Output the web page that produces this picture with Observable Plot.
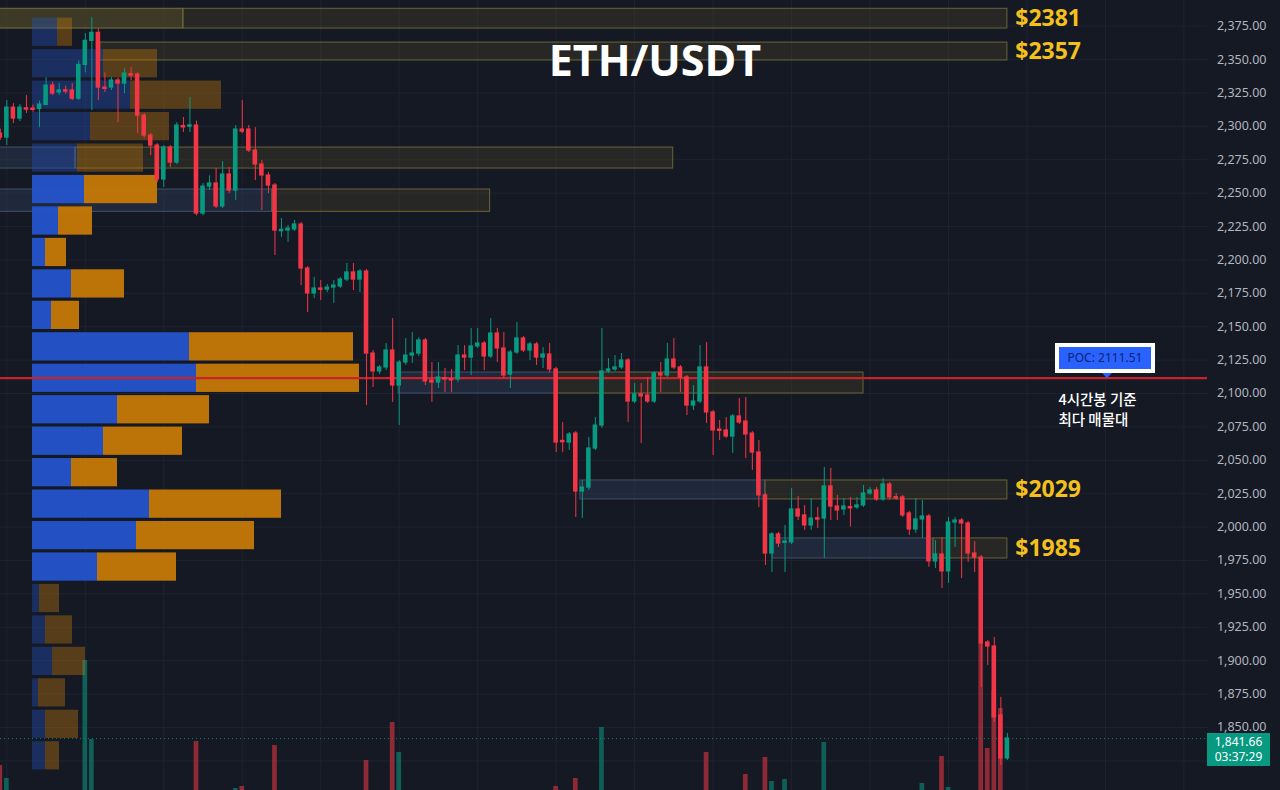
<!DOCTYPE html>
<html><head><meta charset="utf-8">
<script src="https://cdn.jsdelivr.net/npm/d3@7"></script>
<script src="https://cdn.jsdelivr.net/npm/@observablehq/plot@0.6"></script>
<style>
html,body{margin:0;padding:0;background:#151924;}
#wrap{position:relative;width:1280px;height:790px;overflow:hidden;background:#151924;font-family:"Noto Sans",sans-serif;}
#wrap svg{position:absolute;left:0;top:0;background:transparent;overflow:hidden;}
#title{position:absolute;left:0;width:1310px;top:30px;text-align:center;color:#fff;font:700 43px "Open Sans",sans-serif;letter-spacing:0px;}
#poc{position:absolute;box-sizing:border-box;width:100px;height:30px;border:4px solid #fff;background:#2962ff;color:#0d2470;font:12px "Noto Sans",sans-serif;text-align:center;line-height:22px;}
#poc:after{content:"";position:absolute;left:43px;bottom:-9px;border-left:5px solid transparent;border-right:5px solid transparent;border-top:5px solid #2962ff;}
#tag{position:absolute;box-sizing:border-box;width:63px;height:33px;background:#089981;color:#fff;font:12px "Noto Sans",sans-serif;text-align:center;line-height:15px;padding-top:1px;}
</style></head><body><div id="wrap"></div>
<script>
// ---- candle data (4h) ----
const open=[2294.6,2291.6,2314,2305.8,2313.5,2313.3,2313,2316,2330.5,2325.3,2327,2326.8,2320.7,2346,2364,2370,2329,2329,2334.3,2332,2339,2338.8,2308,2293.1,2285.6,2260.2,2284.1,2272.9,2300.2,2299.7,2300.6,2234.7,2254.9,2257.2,2240,2263.9,2251.9,2297.6,2297.6,2281.9,2271.4,2263.2,2255.7,2221.5,2222,2222.8,2226.5,2193.6,2174.9,2178.6,2177.8,2179.3,2180.1,2185.3,2190.6,2185.3,2191.3,2129.9,2116.5,2119.5,2132.2,2106,2123.2,2128.4,2129.9,2139.7,2109.7,2108.2,2111.5,2110.8,2110.5,2128.4,2126.9,2135.2,2137.4,2127.7,2144.9,2133.7,2114.2,2130.7,2141.2,2132.2,2136.7,2126.9,2129.2,2118,2064.5,2063.3,2070,2026.6,2029.6,2058.8,2076,2116.5,2118,2119.5,2124.7,2094,2099.3,2098.5,2094,2115,2113.5,2125.4,2119.5,2112,2091,2094,2119.5,2085.8,2073,2072.3,2067.8,2082.8,2079,2070,2055.8,2023.7,1980.2,1994.5,1988.2,1988.5,2013.2,2008.7,2001.2,2006.6,2006.4,2030.4,2015.4,2013.2,2015,2014.7,2016.2,2025.1,2027.4,2020.7,2031.9,2022.4,2022.2,2010.2,1998.2,2005.7,2007.9,1974.3,1979.5,1966.8,2003.4,2004.9,2002.7,1980.2,1977.2,1913.6,1910.6,1859,1826.8];
const close=[2291.6,2314,2305.8,2314,2312.5,2312.3,2316.3,2330.5,2324.5,2326.8,2326,2320.7,2346,2364,2370,2329,2328,2334.3,2332,2339.5,2338,2308,2293.1,2285.6,2260.2,2284.1,2272.9,2300.6,2299.2,2300.7,2234.7,2254.9,2257.2,2240,2263.9,2251.9,2297.6,2296,2281.9,2271.4,2263.2,2255.7,2222,2222.5,2223.5,2226.5,2193.6,2174.9,2178.6,2177.6,2179.3,2180.8,2185.3,2190.6,2185.3,2191.3,2129.9,2116.5,2119.5,2132.2,2106,2123.2,2128.4,2129.9,2139.7,2109,2108.2,2112,2110.5,2109.8,2128.4,2126.9,2135.2,2137.4,2127.7,2144.9,2133.7,2113.5,2130.7,2141.2,2132.2,2136.7,2126.9,2129.2,2118,2063.3,2063.5,2069.3,2026.6,2029.6,2058.8,2076,2116.5,2118,2119.5,2124.7,2094,2099.3,2097.8,2094,2115,2113.5,2125.4,2119.5,2112,2091,2094,2119.5,2085.8,2072.3,2072,2067.8,2082.8,2078.3,2069.3,2055.8,2023.7,1980.2,1994.5,1987.7,1989.2,2013.2,2007.9,2001.2,2006.4,2005.6,2030.4,2015.4,2012.4,2015.4,2014,2016.2,2025.1,2027.4,2020.7,2031.9,2022.2,2021.4,2008.7,1998.2,2005.7,2007.9,1974.3,1979.5,1966.8,2003.4,2004.9,2002.7,1980.2,1977.2,1912.9,1910.6,1857.5,1826.8,1841.66];
const high=[2298,2319.3,2317,2316.3,2323,2316,2319,2336.5,2333,2332,2330,2332,2349,2369.5,2381.4,2373,2340,2336.5,2336,2343.3,2344,2340,2309.6,2294.6,2287,2285.6,2285.6,2302.8,2306.6,2321.6,2304,2257.2,2263,2268.5,2273.6,2269.2,2300.6,2319.3,2300.6,2299,2274.4,2265.4,2257.2,2231,2225.8,2229.5,2228,2195,2186.8,2184.6,2181.6,2184.6,2186.8,2197.3,2197.3,2192.8,2192.8,2132.2,2121,2137.4,2156.1,2124.7,2141.2,2145.6,2141.9,2141.2,2123.2,2123.2,2118.7,2118,2135.9,2135.9,2148.7,2148.7,2138.9,2156.1,2148.7,2145.6,2132.2,2153.1,2142.7,2138.2,2138.2,2134.4,2137.4,2119.5,2078.3,2070.8,2071.5,2034.9,2067,2082,2148.7,2126.2,2128.4,2129.9,2126.2,2107.5,2107.5,2112,2116.5,2123.2,2137.4,2141.2,2121,2113.5,2106,2135.9,2138.2,2087.3,2079.8,2082,2084.3,2096.3,2097,2071.5,2064.8,2025.1,1996,1996,2001.2,2028.9,2022.9,2016.2,2021.4,2014.7,2044.6,2043.9,2023.7,2021.4,2022.2,2022.2,2031.1,2029.6,2029.6,2036.4,2033.4,2025.1,2023.7,2011.7,2021.4,2019.9,2009.4,1990,1992.2,2007.2,2007.2,2006.4,2004.2,1989.2,1978.7,1915,1917.4,1872.5,1845.5];
const low=[2289.5,2285.6,2302,2303.5,2309.6,2310.5,2299,2315.6,2323,2323,2324,2319.3,2319.3,2340,2311.8,2319.3,2325.3,2326.8,2302.8,2324.5,2334.3,2294.6,2291,2278.1,2257.9,2254.2,2269.2,2271.4,2295.4,2295.4,2233,2233,2251.9,2238.5,2238.5,2249.7,2244.5,2294.6,2280.4,2259.4,2237,2249.7,2203.3,2216.8,2213,2221.3,2180.8,2160.6,2171,2169.6,2175.6,2167.4,2178.6,2183.8,2177,2175.6,2091,2104.5,2114.2,2117.2,2093.3,2076,2121,2122.5,2127.7,2106,2093.3,2103.7,2100.7,2100.7,2108.2,2117.2,2113.5,2133.7,2117.2,2126.2,2123.2,2111.2,2103.7,2129.2,2130.7,2124.7,2121,2118.7,2115.7,2055.8,2055.8,2057.3,2007.2,2006.4,2027.4,2057.3,2073.8,2115,2116.5,2118,2078.3,2092.5,2062.6,2092.5,2092.5,2100.7,2112,2118,2100.7,2083.5,2087.3,2092.5,2077.5,2053.6,2064.8,2066.3,2055.1,2076.8,2051.3,2042.4,2014.7,1971.3,1966,1984.7,1966,1987,2004.9,1997.5,1997.5,1999,1976.5,2004.9,2004.9,2008.7,2000,2013.2,2014.7,2023.7,2019.2,2019.2,2020,2020,2007.2,1993.7,1995.2,1991.5,1969.8,1969,1954,1957.8,1984.7,1961.5,1973.5,1966,1879.9,1896.4,1853.7,1821.6,1825.3];
const volume=[90,64,30,28,18,15,22,34,20,14,12,20,36,300,142,38,20,18,24,22,14,36,30,26,38,34,22,30,14,22,138,36,20,26,30,22,44,48,30,28,26,20,130,24,16,14,36,38,22,16,12,14,16,18,20,18,100,38,16,20,176,116,28,24,22,34,26,20,16,14,30,16,26,18,20,30,22,28,24,22,16,14,16,12,18,48,30,22,64,36,34,30,166,20,14,16,36,18,24,16,26,14,22,20,18,30,16,32,116,34,16,14,26,18,72,34,38,106,58,24,62,38,22,20,18,14,136,30,16,12,16,10,18,12,14,20,16,10,24,22,30,54,38,26,108,46,18,30,34,26,334,124,240,204,38];

// ---- volume profile (24 rows, bottom -> top) ----
const profileRowLow=[1817,1840.55,1864.1,1887.65,1911.2,1934.75,1958.3,1981.85,2005.4,2028.95,2052.5,2076.05,2099.6,2123.15,2146.7,2170.25,2193.8,2217.35,2240.9,2264.45,2288,2311.55,2335.1,2358.65];
const profileRowStep=23.55;
const profileUp=[13,13,6,20,13,7,65,104,117,39,71,85,164,157,19,39,13,26,52,45,58,98,71,25];
const profileDown=[14,33,27,33,27,20,79,118,132,46,79,92,163,164,28,53,21,34,73,66,79,91,54,15];
const valueAreaLow=1958.3, valueAreaHigh=2264.45;

// ---- zones ----
const zoneLow=[2373.2,2349.3,2268.4,2236.0,2100.0,2020.7,1976.5];
const zoneHigh=[2388.0,2362.7,2284.1,2252.7,2115.7,2034.9,1991.5];
const zoneStart=[-2,15.3,-2,-2,60.9,88.7,118.1];
const zoneSplit=[28,15.3,11.5,41.6,84.9,117,142.7];
const zoneEnd=[154,154,102.9,74.9,132,154,154];
const zoneLabels=["$2381","$2357",null,null,null,"$2029","$1985"];

const priceTicks=d3.range(1825,2376,25);
const poc=2111.51, lastPrice=1841.66, countdown="03:37:29", symbol="ETH/USDT";
const pocNote="4시간봉 기준\n최다 매물대";

const idx=d3.range(open.length);
const up=i=>close[i]>=open[i];
const GREEN="#089981", RED="#f23645";
const W=1280,H=790;
const common={width:W,height:H,marginLeft:0,marginRight:73,marginTop:0,marginBottom:0,
  x:{domain:[0.03,184.6],axis:null}, style:{background:"transparent",overflow:"hidden"}};
const yPrice={domain:[1802.8,2394.2],axis:null};

const wrap=document.getElementById("wrap");

// layer 1: grid + zones
const zi=d3.range(zoneLow.length);
const g=Plot.plot({...common,y:yPrice,marks:[
  Plot.ruleY(priceTicks,{stroke:"#1f2330",strokeWidth:1}),
  Plot.ruleX(d3.range(1,185,12),{stroke:"#1f2330",strokeWidth:1}),
  Plot.rect(zi.filter(k=>zoneSplit[k]>zoneStart[k]),{x1:k=>zoneStart[k],x2:k=>zoneSplit[k],y1:k=>zoneLow[k],y2:k=>zoneHigh[k],
    fill:k=>k<2?"#4a4628":"#2a3a52",fillOpacity:k=>k<2?0.75:0.5,stroke:k=>k<2?"#77703a":"#415168",strokeWidth:1,clip:true}),
  Plot.rect(zi,{x1:k=>zoneSplit[k],x2:k=>zoneEnd[k],y1:k=>zoneLow[k],y2:k=>zoneHigh[k],
    fill:"#4a4628",fillOpacity:0.35,stroke:"#6a6436",strokeWidth:1,clip:true})
]});
wrap.appendChild(g);

// layer 2: volume
const v=Plot.plot({...common,y:{domain:[0,400],range:[810,610],axis:null},marks:[
  Plot.rect(idx,{x1:i=>i-0.36,x2:i=>i+0.36,y1:0,y2:i=>volume[i],fill:i=>up(i)?GREEN:RED,fillOpacity:0.55})
]});
wrap.appendChild(v);

// layer 3: volume profile
const rows=d3.range(profileUp.length);
const inVA=k=>profileRowLow[k]>=valueAreaLow-0.01&&profileRowLow[k]<valueAreaHigh-0.01;
const p=Plot.plot({...common,x:{domain:[0,327],range:[32,359],axis:null},y:yPrice,marks:[
  Plot.rect(rows,{x1:0,x2:k=>profileUp[k],y1:k=>profileRowLow[k],y2:k=>profileRowLow[k]+profileRowStep,insetTop:1.6,insetBottom:1.6,
    fill:"#2453c8",fillOpacity:k=>inVA(k)?0.97:0.36}),
  Plot.rect(rows,{x1:k=>profileUp[k],x2:k=>profileUp[k]+profileDown[k],y1:k=>profileRowLow[k],y2:k=>profileRowLow[k]+profileRowStep,insetTop:1.6,insetBottom:1.6,
    fill:"#c27808",fillOpacity:k=>inVA(k)?0.97:0.38})
]});
wrap.appendChild(p);

// layer 4: candles, lines, labels
const m=Plot.plot({...common,y:yPrice,marks:[
  Plot.ruleY([poc],{stroke:"#c8222a",strokeWidth:2.2}),
  Plot.ruleY([lastPrice],{stroke:GREEN,strokeWidth:1,strokeDasharray:"1,3",strokeOpacity:0.8}),
  Plot.ruleX(idx,{x:i=>i,y1:i=>low[i],y2:i=>high[i],stroke:i=>up(i)?GREEN:RED,strokeWidth:1}),
  Plot.rect(idx,{x1:i=>i-0.35,x2:i=>i+0.35,y1:i=>open[i],y2:i=>close[i],insetTop:-0.6,insetBottom:-0.6,fill:i=>up(i)?GREEN:RED}),
  Plot.text(zi.filter(k=>zoneLabels[k]),{x:155.2,y:k=>(zoneLow[k]+zoneHigh[k])/2,text:k=>zoneLabels[k],textAnchor:"start",
    fill:"#f3c01c",fontSize:23,fontWeight:"bold",fontFamily:"Open Sans",clip:false}),
  Plot.text(priceTicks.filter(d=>d>lastPrice),{y:d=>d,text:d=>d3.format(",.2f")(d),frameAnchor:"right",dx:59,textAnchor:"end",fill:"#b2b5be",fontSize:12.5,fontFamily:"Noto Sans"}),
  Plot.text([poc],{x:161.8,y:d=>d,dy:12,text:()=>pocNote,textAnchor:"start",lineAnchor:"top",lineHeight:1.4,fill:"#ffffff",fontSize:14.5,fontWeight:500,fontFamily:"Noto Sans CJK KR"})
]});
wrap.appendChild(m);

// HTML overlays positioned through the plot scales
const ys=Plot.scale({y:m.scale("y")});
const xs=Plot.scale({x:m.scale("x")});
const t=document.createElement("div");t.id="title";t.textContent=symbol;wrap.appendChild(t);
const pb=document.createElement("div");pb.id="poc";pb.textContent="POC: "+poc.toFixed(2);
pb.style.left=(xs.apply(169)-50)+"px";pb.style.top=(ys.apply(poc)-35)+"px";wrap.appendChild(pb);
const tag=document.createElement("div");tag.id="tag";tag.innerHTML=d3.format(",.2f")(lastPrice)+"<br>"+countdown;
tag.style.left="1207px";tag.style.top=(ys.apply(lastPrice)-5)+"px";wrap.appendChild(tag);
</script></body></html>
